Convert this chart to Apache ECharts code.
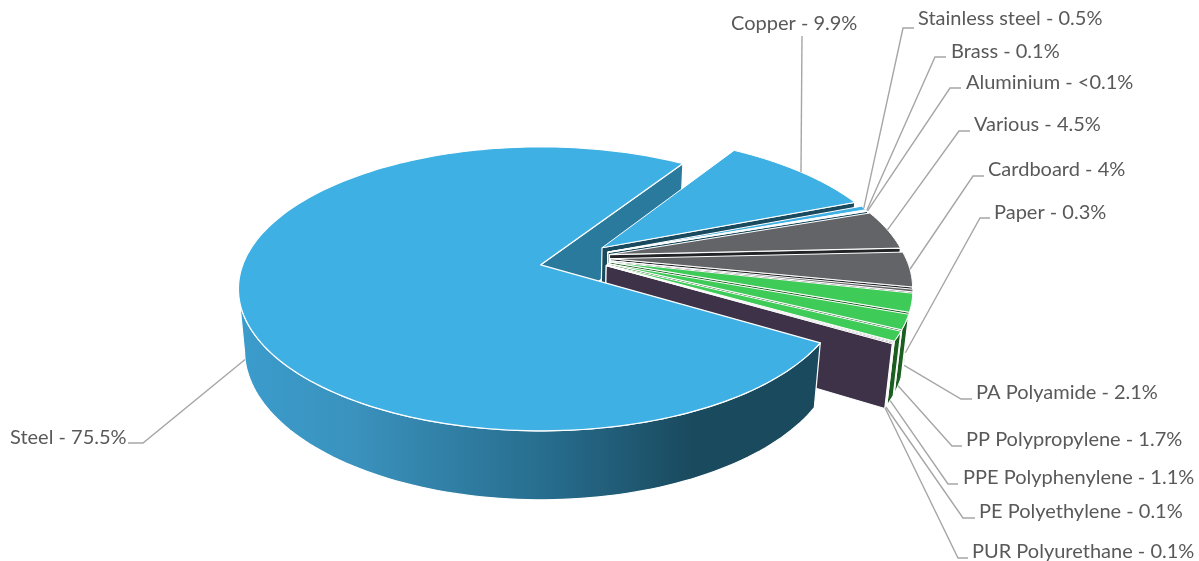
<!DOCTYPE html>
<html><head><meta charset="utf-8">
<style>html,body{margin:0;padding:0;background:#fff}#c{width:1199px;height:561px}</style>
<script src="https://cdn.jsdelivr.net/npm/echarts@6/dist/echarts.min.js"></script>
</head><body><div id="c"></div>
<script>
// ---- data (clockwise, starting from Copper) ----
const materials = ['Copper','Stainless steel','Brass','Aluminium','Various','Cardboard','Paper','PA Polyamide','PP Polypropylene','PPE Polyphenylene','PE Polyethylene','PUR Polyurethane','Steel'];
const shares = [9.9,0.5,0.1,0.05,4.5,4,0.3,2.1,1.7,1.1,0.1,0.1,75.5];
const shareTexts = ['9.9%','0.5%','0.1%','<0.1%','4.5%','4%','0.3%','2.1%','1.7%','1.1%','0.1%','0.1%','75.5%'];

// ---- styling ----
const BLUE='#3eb0e4',GREY='#636467',GREEN='#3ecb58',PURPLE='#3d3247';
const topColors=[BLUE,BLUE,BLUE,BLUE,GREY,GREY,GREY,GREEN,GREEN,GREEN,PURPLE,PURPLE,BLUE];
const wallColors=['#1a4a5e','#1a4a5e','#1a4a5e','#1a4a5e','#222326','#222326','#222326','#1b5e20','#1b5e20','#1b5e20',PURPLE,PURPLE,'#2a7a9e'];
const startDeg=33, steelWallEnd=260;
const steelExplode=0.12, steelCentre=[0.116,0.028], smallExplode=0.115, smallCentre=[0.12,0.055];
// projection of the tilted pie onto the page
const P={x0:541,y0:265,s:298,k:0.169,b:-93.2,c:67.3,m:0.02};
function proj(X,Y,D){const w=1+P.k*Y+P.m*D;return [P.x0+P.s*X/w,(P.y0+P.b*Y+P.c*D)/w];}
// label layout: text x, text y, elbow x, elbow y, line end x, leader start depth
const labelLayout=[
 {tx:731,ty:24,ex:802,ey:36,hx:802,d:0},
 {tx:918,ty:19,ex:903,ey:28,hx:914,d:0},
 {tx:951,ty:52,ex:935,ey:57,hx:946,d:0},
 {tx:966,ty:83,ex:950,ey:88,hx:961,d:0},
 {tx:974,ty:125,ex:959,ey:131,hx:970,d:0},
 {tx:988,ty:170,ex:973,ey:176,hx:984,d:0},
 {tx:994,ty:213,ex:980,ey:218,hx:990,d:1},
 {tx:976,ty:393,ex:961,ey:399,hx:972,d:1},
 {tx:966,ty:440,ex:952,ey:446,hx:962,d:1},
 {tx:963,ty:478,ex:948,ey:484,hx:958,d:1},
 {tx:979,ty:512,ex:963,ey:518,hx:975,d:1},
 {tx:972,ty:552,ex:958,ey:558,hx:968,d:1},
 {tx:10,ty:438,ex:143,ey:443,hx:128,d:1}
];

// ---- slice geometry derived from the values ----
const total=shares.reduce((a,b)=>a+b,0);
const steelIdx=materials.length-1;
const rad=d=>d*Math.PI/180;
let acc=startDeg;
const slices=shares.map((v,i)=>{const a0=acc,a1=acc+v/total*360;acc=a1;
  const mid=rad((a0+a1)/2),C=i===steelIdx?steelCentre:smallCentre,e=i===steelIdx?steelExplode:smallExplode;
  return {a0,a1,ox:C[0]+e*Math.sin(mid),oy:C[1]+e*Math.cos(mid)};});
function rim(s,deg,D){return proj(s.ox+Math.sin(rad(deg)),s.oy+Math.cos(rad(deg)),D);}
function arc(s,D,end){const e=end===undefined?s.a1:end;const pts=[];const n=Math.max(2,Math.ceil((e-s.a0)/1.5));
  for(let i=0;i<=n;i++)pts.push(rim(s,s.a0+(e-s.a0)*i/n,D));return pts;}
function poly(points,fill,lw){return {type:'polygon',shape:{points},
  style:{fill,stroke:'#fff',lineWidth:lw===undefined?1.2:lw,lineJoin:'round'}};}
function radialWall(s,deg,fill){return poly([proj(s.ox,s.oy,0),rim(s,deg,0),rim(s,deg,1),proj(s.ox,s.oy,1)],fill);}
function outerWall(s,fill,end){return poly(arc(s,0,end).concat(arc(s,1,end).reverse()),fill);}
function topFace(s,fill,lw){return poly([proj(s.ox,s.oy,0)].concat(arc(s,0)),fill,lw);}

const steelGradient={type:'linear',x:0,y:0,x2:1,y2:0,colorStops:[
 {offset:0,color:'#3b9ccc'},{offset:.2,color:'#3a92bd'},{offset:.55,color:'#266a8a'},{offset:.78,color:'#1a4a5e'},{offset:1,color:'#1a4a5e'}]};

const smallData=shares.slice(0,steelIdx).map((v,i)=>[i,v]);
const option={animation:false,
 series:[
  {type:'custom',coordinateSystem:'none',silent:true,z:1,data:[[steelIdx,shares[steelIdx]]],
   renderItem(){const s=slices[steelIdx];return radialWall(s,s.a1,wallColors[steelIdx]);}},
  {type:'custom',coordinateSystem:'none',silent:true,z:2,data:smallData,
   renderItem(p,api){const i=api.value(0),s=slices[i];
    return {type:'group',children:[outerWall(s,wallColors[i]),radialWall(s,s.a1,wallColors[i]),topFace(s,topColors[i],1)]};}},
  {type:'custom',coordinateSystem:'none',silent:true,z:3,data:[[steelIdx,shares[steelIdx]]],
   renderItem(){const s=slices[steelIdx];
    return {type:'group',children:[outerWall(s,steelGradient,steelWallEnd),topFace(s,topColors[steelIdx])]};}},
  {type:'custom',coordinateSystem:'none',silent:true,z:4,data:materials.map((m,i)=>[i,shares[i]]),
   renderItem(p,api){const i=api.value(0),s=slices[i],L=labelLayout[i];
    const start=rim(s,(s.a0+s.a1)/2,L.d);
    return {type:'group',children:[
     {type:'polyline',shape:{points:[start,[L.ex,L.ey],[L.hx,L.ey]]},style:{fill:null,stroke:'#a6a6a6',lineWidth:1.4}},
     {type:'text',style:{x:L.tx,y:L.ty,text:materials[i]+' - '+shareTexts[i],fill:'#595959',
       font:'20px Lato',textAlign:'left',textVerticalAlign:'middle'}}
    ]};}}
 ]};
echarts.init(document.getElementById('c'),null,{renderer:'canvas'}).setOption(option);
</script></body></html>
